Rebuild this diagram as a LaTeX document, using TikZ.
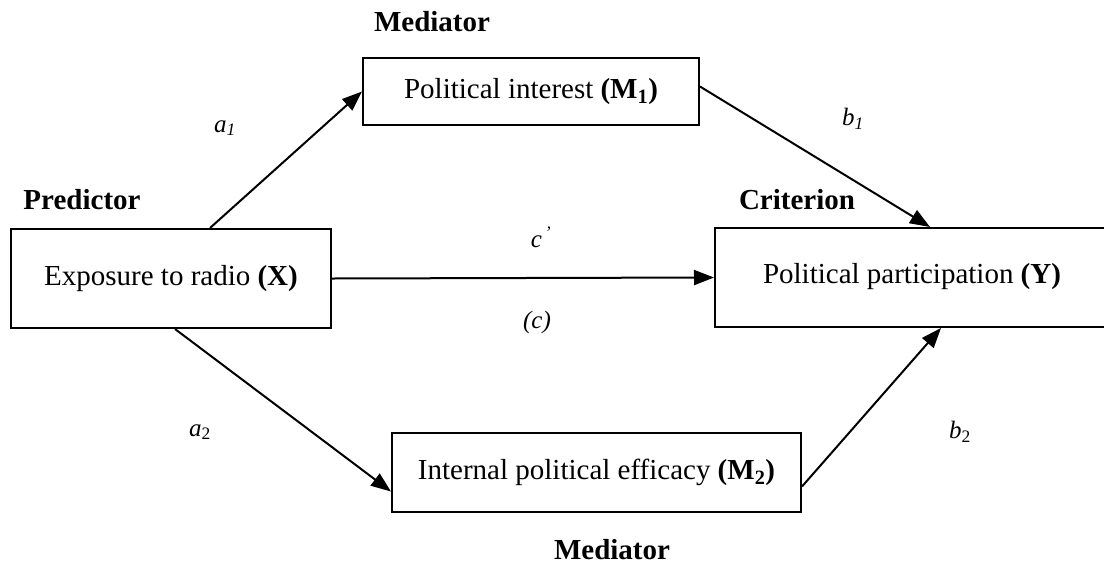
\documentclass[tikz,border=0pt]{standalone}
\usepackage{fontspec}
\setmainfont{Liberation Serif}
\usetikzlibrary{arrows.meta}
\begin{document}
\begin{tikzpicture}[x=1pt,y=-1pt,
  every node/.style={font=\fontsize{29}{34}\selectfont},
  varbox/.style={draw,line width=2pt,anchor=north west,inner sep=0pt},
  heading/.style={font=\fontsize{29}{34}\selectfont\bfseries,inner sep=0pt},
  coef/.style={font=\fontsize{25}{30}\selectfont\itshape},
  path/.style={line width=2pt,-{Triangle[length=20pt,width=15pt]}}]
\useasboundingbox (0,0) rectangle (1104,566);

% boxes for the five variables
\node[varbox,minimum width=320pt,minimum height=99pt] (x) at (10,228) {};
\node at (x.center) {Exposure to radio \textbf{(X)}};
\node[varbox,minimum width=336pt,minimum height=67pt] (m1) at (362,57) {};
\node at (m1.center) {Political interest \textbf{(M\textsubscript{1})}};
\node[varbox,minimum width=396pt,minimum height=99pt] (y) at (714,227) {};
\node at (912,276.5) {Political participation \textbf{(Y)}};
\node[varbox,minimum width=409pt,minimum height=79pt] (m2) at (391,432) {};
\node at (m2.center) {Internal political efficacy \textbf{(M\textsubscript{2})}};

% role headings
\node[heading,anchor=base] (hm1) at (432,31) {Mediator};
\node[heading,anchor=base] (hx) at (82,209) {Predictor};
\node[heading,anchor=base] (hy) at (797,209) {Criterion};
\node[heading,anchor=base] (hm2) at (612,559) {Mediator};

% paths
\draw[path] ([xshift=200pt]x.north west) -- (m1.west);
\draw[path] ([yshift=5pt]m1.east) -- ([xshift=216pt]y.north west);
\draw[path] (x.east) -- (y.west);
\draw[path] ([xshift=165pt]x.south west) -- ([yshift=-19pt]m2.west);
\draw[path] ([yshift=-14pt]m2.east) -- ([xshift=227pt]y.south west);

% path coefficients
\node[coef] (la1) at (225,128) {a\textsubscript{1}};
\node[coef] (lb1) at (853,119) {b\textsubscript{1}};
\node[coef] (lc1) at (541,237) {c\textsuperscript{\,'}};
\node[coef] (lc) at (537,322) {(c)};
\node[coef] (la2) at (200,432) {a\textsubscript{\upshape 2}};
\node[coef] (lb2) at (960,432) {b\textsubscript{\upshape 2}};
\end{tikzpicture}
\end{document}
